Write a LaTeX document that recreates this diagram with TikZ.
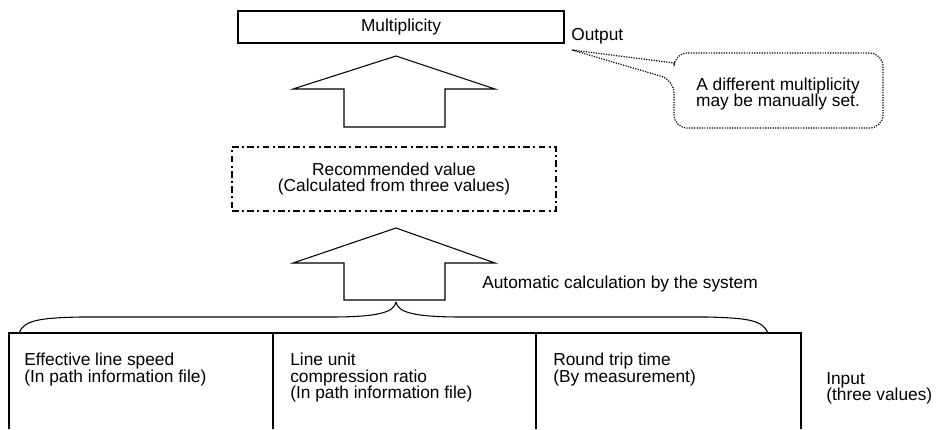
\documentclass[tikz,border=0pt]{standalone}
\usepackage{fontspec}
\setmainfont{Liberation Sans}
\begin{document}
\begin{tikzpicture}[x=0.75pt,y=-0.75pt,
  txt/.style={font=\fontsize{13}{12.4}\selectfont, inner sep=0pt},
  plain/.style={draw=black, line width=0.8pt},
  dashdot/.style={draw=black, line width=1.4pt, dash pattern=on 5pt off 2.5pt on 1.5pt off 2.5pt},
  calloutline/.style={draw=black, line width=0.9pt, densely dotted},
  blockarrow/.style={draw=black, line width=0.8pt, line join=miter}]
\useasboundingbox (0,0) rectangle (937,429);
% output box
\node[plain, txt, minimum width=244.5pt, minimum height=24pt] (mult) at (401,27) {Multiplicity};
\node[txt, anchor=base west] (out) at (571,40) {Output};
% callout
\coordinate (tip) at (572,50);
\draw[calloutline, rounded corners=10pt] (tip) -- (674,80) -- (674,128) -- (883,128) -- (883,53) -- (674,53) [sharp corners] -- (674,63) -- cycle;
\node[txt, align=center] (note) at (778,94) {A different multiplicity\\may be manually set.};
% upper block arrow
\draw[blockarrow] (396,56) -- (495,89) -- (445,89) -- (445,127) -- (344,127) -- (344,89) -- (293,89) -- cycle;
% recommended value
\node[dashdot, txt, align=center, minimum width=243pt, minimum height=48pt] (rec) at (394,179) {Recommended value\\(Calculated from three values)};
% lower block arrow
\draw[blockarrow] (396,228) -- (495,263) -- (445,263) -- (445,300) -- (344,300) -- (344,263) -- (293,263) -- cycle;
\node[txt, anchor=base west] (auto) at (482,288) {Automatic calculation by the system};
% brace
\coordinate (btip) at (396,302);
\coordinate (bl) at (19,333);
\coordinate (br) at (768,333);
\draw[plain] (bl) .. controls (24,320) and (40,318) .. (80,317) -- (330,317) .. controls (380,317) and (394,312) .. (btip);
\draw[plain] (br) .. controls (763,320) and (747,318) .. (707,317) -- (462,317) .. controls (412,317) and (398,312) .. (btip);
% input table
\draw[plain] (9,429) -- (9,333) -- (801,333) -- (801,429);
\draw[plain] (273,333) -- (273,429);
\draw[plain] (536,333) -- (536,429);
\node[txt, align=left, anchor=north west] (c1) at (24,353) {Effective line speed\\(In path information file)};
\node[txt, align=left, anchor=north west] (c2) at (290,353) {Line unit\\compression ratio\\(In path information file)};
\node[txt, align=left, anchor=north west] (c3) at (553,353) {Round trip time\\(By measurement)};
\node[txt, align=left, anchor=north west] (inp) at (826,372) {Input\\(three values)};
\end{tikzpicture}
\end{document}
